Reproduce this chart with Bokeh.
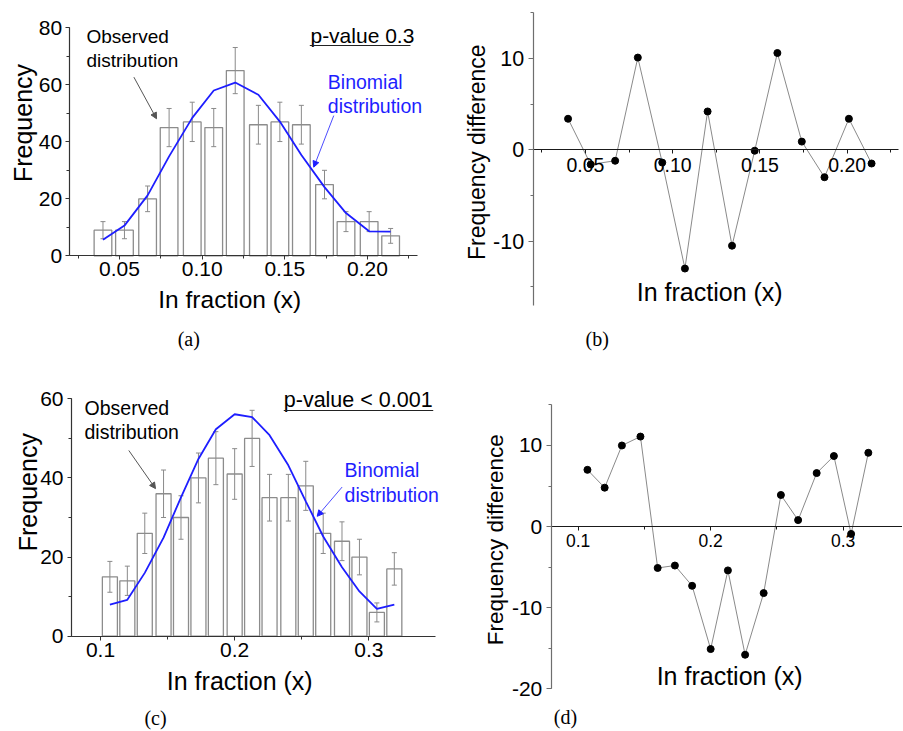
import math
from bokeh.plotting import figure
from bokeh.models import (Range1d, Label, Arrow, NormalHead, Whisker, TeeHead,
                          ColumnDataSource, SingleIntervalTicker, PrintfTickFormatter)
from bokeh.layouts import row, column
from bokeh.embed import file_html
from bokeh.resources import INLINE

# ---------------- data ----------------
# panels (a)/(b): p-value 0.3
x_ab = [0.040, 0.053, 0.067, 0.080, 0.094, 0.107, 0.120, 0.134, 0.147, 0.160, 0.174, 0.187, 0.201, 0.214]
obs_a = [9, 9, 20, 45, 47, 45, 65, 46, 47, 46, 25, 12, 12, 7]
err_a = [3.0, 3.0, 4.5, 6.7, 6.9, 6.7, 8.1, 6.8, 6.9, 6.8, 5.0, 3.5, 3.5, 2.6]
binom_a = [5.6, 10.6, 21.2, 34.9, 48.4, 58.0, 60.8, 56.5, 47.1, 35.4, 24.1, 15.0, 8.6, 8.5]
diff_b = [3.4, -1.6, -1.2, 10.1, -1.4, -13.0, 4.2, -10.5, -0.1, 10.6, 0.9, -3.0, 3.4, -1.5]

# panels (c)/(d): p-value < 0.001
x_cd = [0.107, 0.120, 0.133, 0.147, 0.160, 0.173, 0.186, 0.200, 0.213, 0.226, 0.240, 0.253,
        0.266, 0.280, 0.293, 0.306, 0.319]
obs_c = [15, 14, 26, 36, 30, 40, 45, 41, 50, 35, 35, 38, 26, 24, 20, 6, 17]
err_c = [3.9, 3.7, 5.1, 6.0, 5.5, 6.3, 6.7, 6.4, 7.1, 5.9, 5.9, 6.2, 5.1, 4.9, 4.5, 2.4, 4.1]
binom_c = [8.0, 9.2, 16.0, 24.9, 35.1, 44.8, 52.3, 56.1, 55.4, 50.8, 43.2, 34.1, 25.2, 17.4, 11.3, 6.9, 8.0]
diff_d = [7.0, 4.8, 10.0, 11.1, -5.1, -4.8, -7.3, -15.1, -5.4, -15.8, -8.2, 3.9, 0.8, 6.6, 8.7, -0.9, 9.1]

# axis extents (data units)
xb_ab = (0.0195, 0.2300)
yb_a = (0, 80)
yb_b = (-17, 15)
xb_cd = (0.0784, 0.3497)
xb_d = (0.0797, 0.3448)
yb_c = (0, 60)
yb_d = (-20, 15)

x_title = "In fraction (x)"
y_title_hist = "Frequency"
y_title_diff = "Frequency difference"
obs_text = ["Observed", "distribution"]
bin_text = ["Binomial", "distribution"]
p_text_a = "p-value 0.3"
p_text_c = "p-value < 0.001"

SANS = "Liberation Sans"
SERIF = "Liberation Serif"
BLUE = "#1e1eff"


def make_fig(w, h, xr, yr):
    p = figure(width=w, height=h, x_range=Range1d(*xr), y_range=Range1d(*yr),
               output_backend="svg", toolbar_location=None, min_border=0)
    p.xgrid.visible = False
    p.ygrid.visible = False
    p.outline_line_color = None
    p.background_fill_color = "white"
    p.border_fill_color = "white"
    return p


def style_axis(ax, loc, bounds, color, size, interval, fmt, tick_out, standoff):
    ax.fixed_location = loc
    ax.bounds = bounds
    ax.ticker = SingleIntervalTicker(interval=interval, num_minor_ticks=2)
    ax.formatter = PrintfTickFormatter(format=fmt)
    ax.axis_line_color = color
    ax.axis_line_width = 1.2
    ax.major_tick_line_color = color
    ax.minor_tick_line_color = color
    ax.major_tick_in = 0
    ax.major_tick_out = tick_out
    ax.minor_tick_in = 0
    ax.minor_tick_out = 3
    ax.major_label_text_font = SANS
    ax.major_label_text_font_size = size
    ax.major_label_text_color = "black"
    ax.major_label_standoff = standoff


def txt(p, x, y, s, size, color="black", align="left", angle=0.0, font=SANS):
    p.add_layout(Label(x=x, y=y, text=s, text_font=font, text_font_size=size,
                       text_color=color, text_align=align, text_baseline="middle",
                       angle=angle))


def arrow(p, x0, y0, x1, y1, color, head=True, width=1.0):
    end = NormalHead(size=6, fill_color=color, line_color=color) if head else None
    p.add_layout(Arrow(x_start=x0, y_start=y0, x_end=x1, y_end=y1, end=end,
                       line_color=color, line_width=width))


def hist_panel(p, xs, obs, err, binom, bar_w):
    src = ColumnDataSource(dict(x=xs, top=obs,
                                upper=[o + e for o, e in zip(obs, err)],
                                lower=[o - e for o, e in zip(obs, err)]))
    p.vbar(x="x", top="top", bottom=0, width=bar_w, source=src,
           fill_color=None, line_color="#8c8c8c", line_width=1.3)
    p.add_layout(Whisker(base="x", upper="upper", lower="lower", source=src,
                         line_color="#8a8a8a", line_width=1,
                         upper_head=TeeHead(size=5, line_color="#8a8a8a"),
                         lower_head=TeeHead(size=5, line_color="#8a8a8a")))
    p.line(xs, binom, line_color=BLUE, line_width=1.8)


def diff_panel(p, xs, diff):
    p.line(xs, diff, line_color="#8a8a8a", line_width=1)
    p.scatter(xs, diff, size=7, fill_color="black", line_color="black")


# ---------------- panel (a) ----------------
pa = make_fig(450, 360, (-0.02198, 0.25021), (-36.73, 89.59))
hist_panel(pa, x_ab, obs_a, err_a, binom_a, 0.0107)
style_axis(pa.xaxis[0], 0, xb_ab, "#333333", "21px", 0.05, "%.2f", 4, 2)
style_axis(pa.yaxis[0], xb_ab[0], yb_a, "#333333", "21px", 20, "%d", 4, 3)
txt(pa, 0.0300, 76.85, obs_text[0], "19px")
txt(pa, 0.0300, 68.4, obs_text[1], "19px")
arrow(pa, 0.0587, 62.7, 0.0724, 48.1, "#555555")
txt(pa, 0.1655, 77.3, p_text_a, "21px")
arrow(pa, 0.1651, 73.8, 0.2260, 73.8, "#222222", head=False, width=1.2)
txt(pa, 0.1760, 60.9, bin_text[0], "19.5px", color=BLUE)
txt(pa, 0.1760, 52.4, bin_text[1], "19.5px", color=BLUE)
arrow(pa, 0.1796, 49.2, 0.1675, 31.1, BLUE, width=0.8)
txt(pa, 0.1167, -15.5, x_title, "24.5px", align="center")
txt(pa, -0.0084, 46.6, y_title_hist, "25px", align="center", angle=math.pi / 2)
txt(pa, 0.0919, -29.1, "(a)", "20px", align="center", font=SERIF)

# ---------------- panel (b) ----------------
pb = make_fig(452, 360, (-0.02739, 0.23173), (-23.07, 16.35))
diff_panel(pb, x_ab, diff_b)
style_axis(pb.xaxis[0], 0, (0.0200, 0.2294), "#1a1a1a", "19.5px", 0.05, "%.2f", 4, 4)
style_axis(pb.yaxis[0], 0.0200, yb_b, "#6e6e6e", "21.5px", 10, "%d", 5, 4)
txt(pb, 0.1212, -15.54, x_title, "25px", align="center")
txt(pb, -0.0121, -0.26, y_title_diff, "23px", align="center", angle=math.pi / 2)
txt(pb, 0.0567, -20.69, "(b)", "20px", align="center", font=SERIF)

# ---------------- panel (c) ----------------
pc = make_fig(450, 370, (0.02547, 0.36087), (-23.85, 69.69))
hist_panel(pc, x_cd, obs_c, err_c, binom_c, 0.0112)
style_axis(pc.xaxis[0], 0, xb_cd, "#333333", "21px", 0.1, "%.1f", 4, 3)
style_axis(pc.yaxis[0], xb_cd[0], yb_c, "#333333", "21px", 20, "%d", 4, 4)
txt(pc, 0.0881, 57.8, obs_text[0], "19.5px")
txt(pc, 0.0881, 51.7, obs_text[1], "19.5px")
arrow(pc, 0.1211, 46.95, 0.1410, 37.3, "#555555")
txt(pc, 0.2366, 59.7, p_text_c, "21.5px")
arrow(pc, 0.2366, 57.05, 0.3480, 57.05, "#222222", head=False, width=1.2)
txt(pc, 0.2819, 42.0, bin_text[0], "19.5px", color=BLUE)
txt(pc, 0.2819, 35.6, bin_text[1], "19.5px", color=BLUE)
arrow(pc, 0.2801, 37.7, 0.2615, 30.3, BLUE, width=0.8)
txt(pc, 0.2038, -11.41, x_title, "25px", align="center")
txt(pc, 0.0460, 36.4, y_title_hist, "25px", align="center", angle=math.pi / 2)
txt(pc, 0.1410, -20.6, "(c)", "20px", align="center", font=SERIF)

# ---------------- panel (d) ----------------
pd_ = make_fig(452, 370, (0.003645, 0.34478), (-25.14, 20.48))
diff_panel(pd_, x_cd, diff_d)
style_axis(pd_.xaxis[0], 0, xb_d, "#1a1a1a", "17.5px", 0.1, "%.1f", 4, 3)
style_axis(pd_.yaxis[0], xb_d[0], yb_d, "#6e6e6e", "21px", 10, "%d", 5, 4)
txt(pd_, 0.2143, -18.46, x_title, "25px", align="center")
txt(pd_, 0.0376, -1.61, y_title_diff, "22.5px", align="center", angle=math.pi / 2)
txt(pd_, 0.0904, -23.5, "(d)", "20px", align="center", font=SERIF)

layout = column(row(pa, pb), row(pc, pd_))

open("out.html", "w").write(file_html(layout, INLINE))
